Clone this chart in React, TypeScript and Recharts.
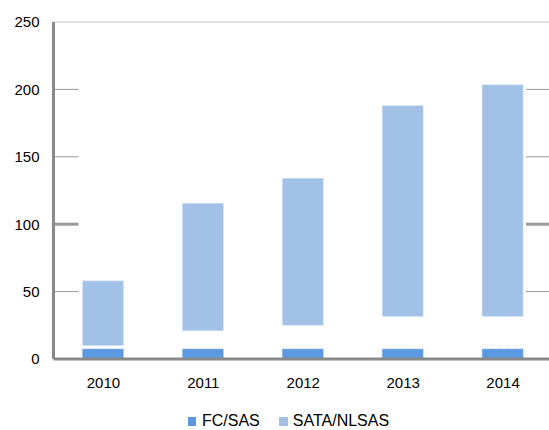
import React from 'react';
import { BarChart, Bar, XAxis, YAxis, ReferenceLine, Legend } from 'recharts';

const categories = ['2010', '2011', '2012', '2013', '2014'];
const fcSas = [7.5, 7.5, 7.5, 7.5, 7.5];
const sataLow = [10, 21, 25, 31.5, 31.5];
const sataHigh = [58, 115.5, 134, 188, 203.5];
const yTicks = [0, 50, 100, 150, 200, 250];
const seriesNames = ['FC/SAS', 'SATA/NLSAS'];

const FC_COLOR = '#5b99e2';
const SATA_COLOR = '#a2c1e6';
const FONT = '"Liberation Sans", Arial, sans-serif';

const data = categories.map((c, i) => ({
  year: c,
  fc: fcSas[i],
  gap: sataLow[i] - fcSas[i],
  sata: sataHigh[i] - sataLow[i],
}));

const SplitLine = (props: any) => {
  const { x1, x2, y1, strokeWidth } = props;
  return (
    <g>
      <line x1={x1} x2={x1 + 25} y1={y1} y2={y1} stroke="#9a9a9a" strokeWidth={strokeWidth} />
      <line x1={x2 - 27} x2={x2} y1={y1} y2={y1} stroke="#9a9a9a" strokeWidth={strokeWidth} />
    </g>
  );
};

const LegendContent = () => (
  <div
    style={{
      display: 'flex',
      alignItems: 'center',
      paddingLeft: 188,
      height: 22,
      lineHeight: '22px',
      fontFamily: FONT,
      fontSize: 16,
      color: '#000',
    }}
  >
    <span style={{ display: 'inline-block', width: 8, height: 9, background: FC_COLOR, marginRight: 6 }} />
    <span style={{ marginRight: 19 }}>{seriesNames[0]}</span>
    <span style={{ display: 'inline-block', width: 9, height: 9, background: SATA_COLOR, marginRight: 5 }} />
    <span>{seriesNames[1]}</span>
  </div>
);

export default function App() {
  return (
    <div style={{ position: 'absolute', left: 0, top: 0, width: 549, height: 430, overflow: 'hidden', background: '#fff' }}>
      <BarChart
        width={560}
        height={430}
        data={data}
        margin={{ top: 22, right: 7, bottom: 19, left: 0 }}
        barSize={41}
      >
        <ReferenceLine y={250} stroke="#c4c4c4" strokeWidth={1} />
        {[50, 150, 200].map((v) => (
          <ReferenceLine key={v} y={v} strokeWidth={1} shape={(p: any) => <SplitLine {...p} strokeWidth={1} />} />
        ))}
        <ReferenceLine y={100} shape={(p: any) => <SplitLine {...p} strokeWidth={3} />} />
        <XAxis
          dataKey="year"
          axisLine={{ stroke: '#8a8a8a', strokeWidth: 3 }}
          tickLine={false}
          tickSize={0}
          tickMargin={18}
          height={30}
          tick={{ fill: '#000', fontSize: 15, fontFamily: FONT }}
        />
        <YAxis
          domain={[0, 250]}
          ticks={yTicks}
          width={53.5}
          axisLine={{ stroke: '#8a8a8a', strokeWidth: 3 }}
          tickLine={false}
          tickSize={0}
          tickMargin={14}
          tick={{ fill: '#000', fontSize: 15, fontFamily: FONT }}
        />
        <Bar dataKey="fc" stackId="s" fill={FC_COLOR} stroke="#9fc2ec" strokeDasharray="1 1" isAnimationActive={false} name={seriesNames[0]} />
        <Bar dataKey="gap" stackId="s" fill="transparent" isAnimationActive={false} legendType="none" />
        <Bar dataKey="sata" stackId="s" fill={SATA_COLOR} stroke="#d6e5f6" strokeDasharray="1 1" isAnimationActive={false} name={seriesNames[1]} />
        <Legend content={<LegendContent />} wrapperStyle={{ left: 0, top: 410, width: 549, height: 22 }} />
      </BarChart>
    </div>
  );
}
